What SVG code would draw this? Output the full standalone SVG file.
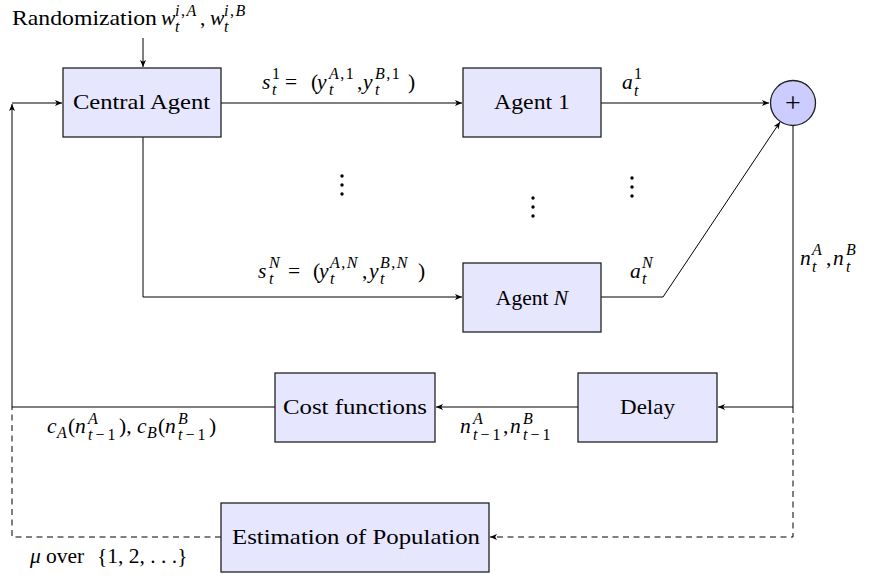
<svg xmlns="http://www.w3.org/2000/svg" width="870" height="578" viewBox="0 0 870 578" font-family="Liberation Serif, DejaVu Serif, serif">
<style>
text{font-size:21.5px;fill:#000}
.i{font-style:italic}
.s{font-size:16px}
.ls{letter-spacing:1.5px}
.lm{letter-spacing:3px}
.plus{font-size:28px}
.box{fill:#E6E6FF;stroke:#222;stroke-width:1.3}
.sum{fill:#CCCCFF;stroke:#222;stroke-width:1.3}
.ln{fill:none;stroke:#000;stroke-width:1}
.ar{marker-end:url(#tip)}
.da{stroke-dasharray:6 4.5}
</style>
<defs>
<marker id="tip" markerWidth="8" markerHeight="6" refX="7" refY="3" orient="auto" markerUnits="userSpaceOnUse">
<path d="M0,0 L7,3 L0,6 L1.8,3 Z" fill="#000"/>
</marker>
</defs>

<g id="connectors">
<path class="ln ar" d="M143,38 V67"/>
<path class="ln ar" d="M221,103 H462"/>
<path class="ln ar" d="M143,137 V297 H462"/>
<path class="ln ar" d="M601,103 H769"/>
<path class="ln ar" d="M601,297 H663 L780,122"/>
<path class="ln ar" d="M793,125.5 V407 H718"/>
<path class="ln ar" d="M578,407 H436"/>
<path class="ln ar" d="M275,407 H12 V104"/>
<path class="ln ar" d="M12,103 H62"/>
<path class="ln da ar" d="M793,407 V537 H490"/>
<path class="ln da" d="M221,537 H12 V407"/>
</g>

<g id="central-agent">
<rect class="box" x="63" y="68" width="158" height="69"/>
<text x="73" y="109" textLength="137" lengthAdjust="spacingAndGlyphs">Central Agent</text>
</g>
<g id="agent-1">
<rect class="box" x="463" y="68" width="138" height="69"/>
<text x="494" y="109" textLength="76" lengthAdjust="spacingAndGlyphs">Agent 1</text>
</g>
<g id="agent-n">
<rect class="box" x="463" y="263" width="138" height="69"/>
<text x="532" y="305" text-anchor="middle">Agent <tspan class="i">N</tspan></text>
</g>
<g id="sum">
<circle class="sum" cx="793" cy="103" r="22.5"/>
<text class="plus" x="793" y="112" text-anchor="middle">+</text>
</g>
<g id="delay">
<rect class="box" x="578" y="373" width="139" height="69"/>
<text x="620" y="414" textLength="55" lengthAdjust="spacingAndGlyphs">Delay</text>
</g>
<g id="cost-functions">
<rect class="box" x="275" y="373" width="160" height="69"/>
<text x="283" y="414" textLength="144" lengthAdjust="spacingAndGlyphs">Cost functions</text>
</g>
<g id="estimation">
<rect class="box" x="221" y="503" width="268" height="69"/>
<text x="232" y="544" textLength="248" lengthAdjust="spacingAndGlyphs">Estimation of Population</text>
</g>

<g id="dots">
<circle cx="342" cy="176" r="1.7"/><circle cx="342" cy="185" r="1.7"/><circle cx="342" cy="194" r="1.7"/>
<circle cx="533" cy="198" r="1.7"/><circle cx="533" cy="207" r="1.7"/><circle cx="533" cy="216" r="1.7"/>
<circle cx="632" cy="178" r="1.7"/><circle cx="632" cy="187" r="1.7"/><circle cx="632" cy="196" r="1.7"/>
</g>

<g id="labels">
<text>
<tspan x="12" y="25" textLength="145" lengthAdjust="spacingAndGlyphs">Randomization</tspan>
<tspan class="i" x="161" y="25">w</tspan>
<tspan class="s ls" x="175" y="16"><tspan class="i">i</tspan>,<tspan class="i">A</tspan></tspan>
<tspan class="s i" x="175" y="32">t</tspan>
<tspan x="200" y="25">,</tspan>
<tspan class="i" x="210" y="25">w</tspan>
<tspan class="s ls" x="224" y="16"><tspan class="i">i</tspan>,<tspan class="i">B</tspan></tspan>
<tspan class="s i" x="224" y="32">t</tspan>
</text>

<text>
<tspan class="i" x="262" y="89">s</tspan>
<tspan class="s" x="272" y="79">1</tspan>
<tspan class="s i" x="272" y="95">t</tspan>
<tspan x="285" y="89">=</tspan>
<tspan x="311" y="89">(</tspan>
<tspan class="i" x="317" y="89">y</tspan>
<tspan class="s ls" x="329" y="79"><tspan class="i">A</tspan>,1</tspan>
<tspan class="s i" x="329" y="95">t</tspan>
<tspan x="357" y="89">,</tspan>
<tspan class="i" x="363" y="89">y</tspan>
<tspan class="s ls" x="375" y="79"><tspan class="i">B</tspan>,1</tspan>
<tspan class="s i" x="375" y="95">t</tspan>
<tspan x="408" y="89">)</tspan>
</text>

<text>
<tspan class="i" x="622" y="89">a</tspan>
<tspan class="s" x="634" y="79">1</tspan>
<tspan class="s i" x="634" y="96">t</tspan>
</text>

<text>
<tspan class="i" x="258" y="278">s</tspan>
<tspan class="s i" x="269" y="268">N</tspan>
<tspan class="s i" x="269" y="284">t</tspan>
<tspan x="288" y="278">=</tspan>
<tspan x="313" y="278">(</tspan>
<tspan class="i" x="319" y="278">y</tspan>
<tspan class="s ls" x="330" y="268"><tspan class="i">A</tspan>,<tspan class="i">N</tspan></tspan>
<tspan class="s i" x="330" y="284">t</tspan>
<tspan x="362" y="278">,</tspan>
<tspan class="i" x="369" y="278">y</tspan>
<tspan class="s ls" x="380" y="268"><tspan class="i">B</tspan>,<tspan class="i">N</tspan></tspan>
<tspan class="s i" x="380" y="284">t</tspan>
<tspan x="418" y="278">)</tspan>
</text>

<text>
<tspan class="i" x="630" y="278">a</tspan>
<tspan class="s i" x="642" y="268">N</tspan>
<tspan class="s i" x="642" y="284">t</tspan>
</text>

<text>
<tspan class="i" x="800" y="265">n</tspan>
<tspan class="s i" x="812" y="255">A</tspan>
<tspan class="s i" x="812" y="272">t</tspan>
<tspan x="826" y="265">,</tspan>
<tspan class="i" x="833" y="265">n</tspan>
<tspan class="s i" x="846" y="255">B</tspan>
<tspan class="s i" x="846" y="272">t</tspan>
</text>

<text>
<tspan class="i" x="47" y="433">c</tspan>
<tspan class="s i" x="57" y="438">A</tspan>
<tspan x="68" y="433">(</tspan>
<tspan class="i" x="75" y="433">n</tspan>
<tspan class="s i" x="88" y="424">A</tspan>
<tspan class="s lm" x="88" y="440"><tspan class="i">t</tspan>−1</tspan>
<tspan x="119" y="433">),</tspan>
<tspan class="i" x="137" y="433">c</tspan>
<tspan class="s i" x="147" y="438">B</tspan>
<tspan x="158" y="433">(</tspan>
<tspan class="i" x="165" y="433">n</tspan>
<tspan class="s i" x="178" y="424">B</tspan>
<tspan class="s lm" x="178" y="440"><tspan class="i">t</tspan>−1</tspan>
<tspan x="209" y="433">)</tspan>
</text>

<text>
<tspan class="i" x="460" y="433">n</tspan>
<tspan class="s i" x="473" y="424">A</tspan>
<tspan class="s lm" x="473" y="440"><tspan class="i">t</tspan>−1</tspan>
<tspan x="503" y="433">,</tspan>
<tspan class="i" x="510" y="433">n</tspan>
<tspan class="s i" x="523" y="424">B</tspan>
<tspan class="s lm" x="523" y="440"><tspan class="i">t</tspan>−1</tspan>
</text>

<text>
<tspan class="i" x="30" y="563">μ</tspan>
<tspan x="46" y="563">over</tspan>
<tspan x="97" y="563">{1, 2, . . .}</tspan>
</text>
</g>
</svg>
